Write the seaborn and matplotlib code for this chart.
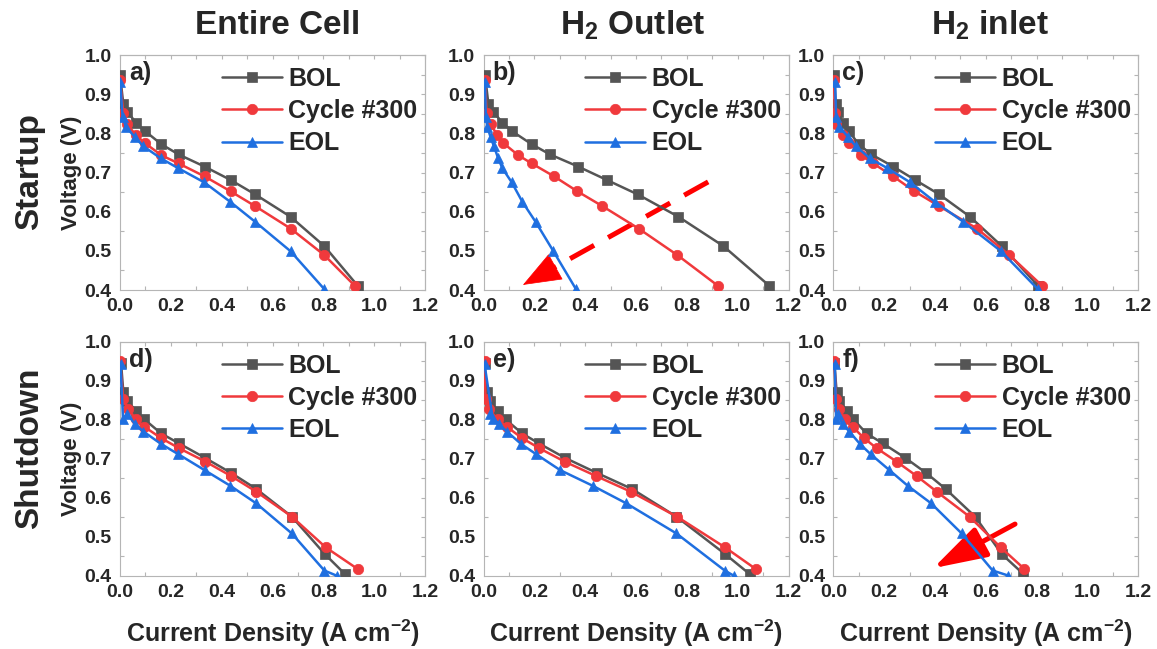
import numpy as np
import pandas as pd
import matplotlib
matplotlib.use("Agg")
import matplotlib.pyplot as plt
import seaborn as sns

# ---------------- data ----------------
series_labels = ["BOL", "Cycle #300", "EOL"]
col_titles = ["Entire Cell", r"H$_{\mathbf{2}}$ Outlet", r"H$_{\mathbf{2}}$ inlet"]
row_titles = ["Startup", "Shutdown"]
panel_tags = ["a)", "b)", "c)", "d)", "e)", "f)"]
x_ticks = [0.0, 0.2, 0.4, 0.6, 0.8, 1.0, 1.2]
y_ticks = [0.4, 0.5, 0.6, 0.7, 0.8, 0.9, 1.0]

# Startup row voltages
v_bol_top = [0.948, 0.876, 0.855, 0.827, 0.806, 0.772, 0.746, 0.715, 0.681, 0.644, 0.587, 0.512, 0.411]
v_c300_top = [0.936, 0.851, 0.824, 0.795, 0.775, 0.744, 0.723, 0.690, 0.652, 0.614, 0.557, 0.489, 0.410]
v_eol_top = [0.931, 0.842, 0.817, 0.790, 0.767, 0.736, 0.711, 0.675, 0.625, 0.574, 0.499, 0.402]
# Startup currents
a_bol = [0.0, 0.013, 0.029, 0.063, 0.098, 0.163, 0.231, 0.333, 0.435, 0.532, 0.671, 0.804, 0.935]
a_c300 = [0.0, 0.013, 0.027, 0.063, 0.098, 0.163, 0.231, 0.333, 0.435, 0.532, 0.671, 0.804, 0.925]
a_eol = [0.001, 0.010, 0.023, 0.059, 0.092, 0.161, 0.229, 0.331, 0.434, 0.532, 0.671, 0.804]
b_bol = [0.006, 0.019, 0.039, 0.074, 0.111, 0.190, 0.262, 0.373, 0.485, 0.607, 0.767, 0.944, 1.124]
b_c300 = [0.006, 0.012, 0.028, 0.054, 0.078, 0.137, 0.190, 0.278, 0.369, 0.468, 0.610, 0.763, 0.924]
b_eol = [0.006, 0.009, 0.015, 0.028, 0.041, 0.058, 0.074, 0.111, 0.153, 0.205, 0.275, 0.364]
c_bol = [0.004, 0.009, 0.020, 0.037, 0.061, 0.100, 0.150, 0.236, 0.322, 0.417, 0.538, 0.663, 0.805]
c_c300 = [0.003, 0.006, 0.011, 0.037, 0.063, 0.109, 0.157, 0.236, 0.319, 0.417, 0.565, 0.693, 0.823]
c_eol = [0.007, 0.011, 0.024, 0.059, 0.089, 0.144, 0.213, 0.302, 0.400, 0.512, 0.660, 0.805]

# Shutdown row voltages
v_bol_bot = [0.946, 0.872, 0.848, 0.823, 0.801, 0.765, 0.740, 0.703, 0.664, 0.623, 0.552, 0.456, 0.405]
v_c300_bot = [0.950, 0.852, 0.827, 0.801, 0.782, 0.753, 0.727, 0.693, 0.656, 0.616, 0.552, 0.473, 0.418]
v_eol_bot = [0.942, 0.801, 0.815, 0.789, 0.770, 0.738, 0.712, 0.671, 0.631, 0.586, 0.509, 0.414, 0.401]
# Shutdown currents
d_bol = [0.004, 0.013, 0.029, 0.063, 0.096, 0.162, 0.231, 0.333, 0.437, 0.536, 0.676, 0.806, 0.885]
d_c300 = [0.0, 0.013, 0.033, 0.063, 0.096, 0.162, 0.233, 0.336, 0.437, 0.536, 0.676, 0.810, 0.935]
d_eol = [0.002, 0.012, 0.028, 0.059, 0.092, 0.162, 0.229, 0.333, 0.434, 0.536, 0.676, 0.804, 0.852]
e_bol = [0.004, 0.013, 0.026, 0.056, 0.087, 0.152, 0.217, 0.319, 0.446, 0.584, 0.759, 0.951, 1.047]
e_c300 = [0.004, 0.008, 0.020, 0.056, 0.092, 0.152, 0.220, 0.319, 0.443, 0.579, 0.761, 0.951, 1.071]
e_eol = [0.004, 0.037, 0.026, 0.060, 0.092, 0.148, 0.207, 0.302, 0.430, 0.562, 0.759, 0.949, 0.984]
f_bol = [0.004, 0.013, 0.024, 0.053, 0.079, 0.131, 0.194, 0.282, 0.365, 0.442, 0.558, 0.663, 0.748]
f_c300 = [0.004, 0.011, 0.024, 0.046, 0.076, 0.121, 0.171, 0.249, 0.328, 0.407, 0.536, 0.659, 0.752]
f_eol = [0.006, 0.011, 0.017, 0.037, 0.063, 0.105, 0.147, 0.221, 0.293, 0.385, 0.505, 0.627, 0.689]

# annotation arrows (data coords): (x_start, y_start, x_tip, y_tip)
arrow_b = (0.884, 0.676, 0.155, 0.413)
arrow_f = (0.715, 0.533, 0.393, 0.420)

# ---------------- style ----------------
sns.set_theme(style="white")
plt.rcParams["font.family"] = ["Liberation Sans", "DejaVu Sans"]
plt.rcParams["font.weight"] = "bold"
plt.rcParams["mathtext.fontset"] = "custom"
plt.rcParams["mathtext.rm"] = "Liberation Sans:bold"
plt.rcParams["mathtext.bf"] = "Liberation Sans:bold"
plt.rcParams["mathtext.default"] = "bf"

colors = ["#555555", "#f0393c", "#1f6fe0"]
markers = ["s", "o", "^"]
spine_gray = "#b5b5b5"

fig = plt.figure(figsize=(11.57, 6.49), dpi=100)
W, H = 1157.0, 649.0
col_left = [120, 483.5, 833.3]
ax_w = 305
row_top = [55, 341.7]
ax_h = [235, 234.3]

currents = [[a_bol, a_c300, a_eol], [b_bol, b_c300, b_eol], [c_bol, c_c300, c_eol],
            [d_bol, d_c300, d_eol], [e_bol, e_c300, e_eol], [f_bol, f_c300, f_eol]]
volts = [[v_bol_top, v_c300_top, v_eol_top], [v_bol_bot, v_c300_bot, v_eol_bot]]

axes = []
for r in range(2):
    for c in range(3):
        left = col_left[c] / W
        bottom = 1 - (row_top[r] + ax_h[r]) / H
        ax = fig.add_axes([left, bottom, ax_w / W, ax_h[r] / H])
        axes.append(ax)
        idx = r * 3 + c
        for s in range(3):
            sns.lineplot(x=currents[idx][s], y=volts[r][s], ax=ax, color=colors[s],
                         marker=markers[s], markersize=7.5, markeredgecolor=colors[s],
                         markeredgewidth=0.5, linewidth=1.8, label=series_labels[s],
                         sort=False, estimator=None, zorder=3)
        ax.set_xlim(0, 1.2)
        ax.set_ylim(0.4, 1.0)
        ax.set_xticks(x_ticks)
        ax.set_yticks(y_ticks)
        ax.set_xticklabels([f"{t:.1f}" for t in x_ticks], fontsize=14, fontweight="bold")
        ax.set_yticklabels([f"{t:.1f}" for t in y_ticks], fontsize=14, fontweight="bold")
        ax.set_xticks(np.arange(0.1, 1.2, 0.2), minor=True)
        ax.set_yticks(np.arange(0.45, 1.0, 0.1), minor=True)
        ax.tick_params(which="major", direction="out", length=4, width=0.8,
                       color=spine_gray, pad=2, top=False, right=False)
        ax.tick_params(which="minor", direction="in", length=3, width=0.8,
                       color=spine_gray, top=False, right=False, bottom=True, left=True)
        for sp in ax.spines.values():
            sp.set_color(spine_gray)
            sp.set_linewidth(0.8)
        secx = ax.secondary_xaxis("top")
        secx.set_xticks(np.arange(0, 1.21, 0.1))
        secx.tick_params(direction="in", length=3, width=0.8, color=spine_gray, labeltop=False)
        secx.spines["top"].set_color(spine_gray)
        secx.spines["top"].set_linewidth(0.8)
        secy = ax.secondary_yaxis("right")
        secy.set_yticks(np.arange(0.4, 1.01, 0.05))
        secy.tick_params(direction="in", length=3, width=0.8, color=spine_gray, labelright=False)
        secy.spines["right"].set_color(spine_gray)
        secy.spines["right"].set_linewidth(0.8)

        ax.set_xlabel("")
        ax.set_ylabel("")
        if c == 0:
            ax.set_ylabel("Voltage (V)", fontsize=16, fontweight="bold", labelpad=2)
        if r == 1:
            ax.set_xlabel(r"Current Density (A cm$^{\mathbf{-2}}$)", fontsize=18,
                          fontweight="bold", labelpad=12)
        ax.text(0.03, 0.975, panel_tags[idx], transform=ax.transAxes, ha="left", va="top",
                fontsize=18, fontweight="bold", zorder=5)
        ax.legend(loc="upper left", bbox_to_anchor=(0.322, 0.965), frameon=False,
                  handlelength=2.4, handletextpad=0.25, labelspacing=0.33,
                  borderaxespad=0, borderpad=0.15,
                  prop={"size": 18, "weight": "bold"})

# arrows
axb = axes[1]
x0, y0, x1, y1 = arrow_b
frac = 0.86
axb.plot([x0, x0 + (x1 - x0) * frac], [y0, y0 + (y1 - y0) * frac], color="#ff0000",
         lw=3.6, dashes=(5.5, 3.2), zorder=2, solid_capstyle="butt")
axb.annotate("", xy=(x1, y1), xytext=(x0 + (x1 - x0) * 0.85, y0 + (y1 - y0) * 0.85),
             arrowprops=dict(arrowstyle="-|>,head_length=2.6,head_width=1.0", color="#ff0000",
                             lw=0.5, mutation_scale=10, shrinkA=0, shrinkB=0), zorder=2)
axf = axes[5]
x0, y0, x1, y1 = arrow_f
axf.annotate("", xy=(x1, y1), xytext=(x0, y0),
             arrowprops=dict(arrowstyle="-|>,head_length=3.3,head_width=1.0", color="#ff0000",
                             lw=3.6, mutation_scale=10, shrinkA=0, shrinkB=0), zorder=2)

# column and row titles
col_cx = [278, 633, 990]
for c in range(3):
    fig.text(col_cx[c] / W, 1 - 25 / H, col_titles[c], ha="center", va="center",
             fontsize=24, fontweight="bold")
row_cy = [172, 448]
for r in range(2):
    fig.text(30 / W, 1 - row_cy[r] / H, row_titles[r], ha="center", va="center",
             rotation=90, fontsize=24, fontweight="bold")

fig.savefig("out.png", dpi=100)
